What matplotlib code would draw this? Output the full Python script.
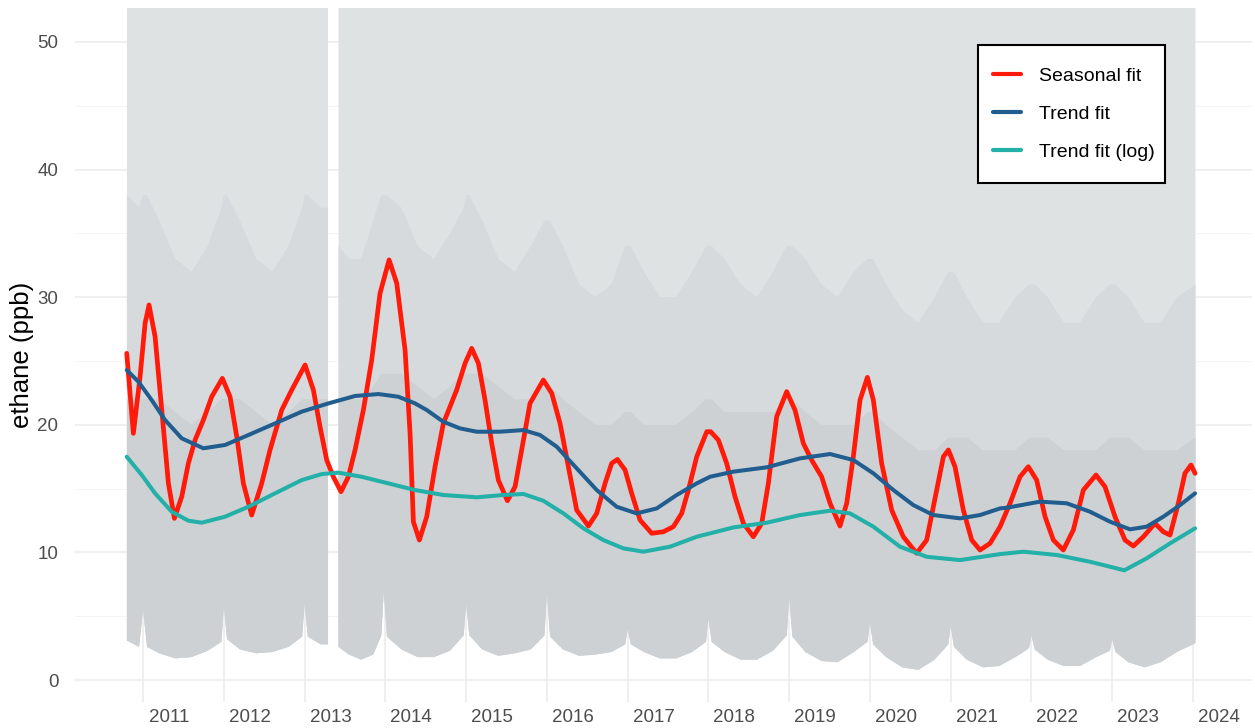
import numpy as np
import matplotlib
matplotlib.use("Agg")
import matplotlib.pyplot as plt
from matplotlib.patches import Rectangle

plt.rcParams['font.family'] = ['Liberation Sans', 'DejaVu Sans']

# ---- fitted curves (decimal year, ppb) ----
seasonal_t = [2010.798, 2010.880, 2010.963, 2011.025, 2011.074, 2011.149, 2011.231, 2011.314, 2011.388,
              2011.479, 2011.561, 2011.644, 2011.747, 2011.850, 2011.982, 2012.077, 2012.160, 2012.242,
              2012.345, 2012.469, 2012.572, 2012.717, 2012.841, 2013.006, 2013.109, 2013.191, 2013.274,
              2013.356, 2013.451, 2013.542, 2013.625, 2013.728, 2013.831, 2013.934, 2014.046, 2014.141,
              2014.244, 2014.306, 2014.347, 2014.421, 2014.512, 2014.615, 2014.718, 2014.883, 2014.987,
              2015.069, 2015.152, 2015.234, 2015.317, 2015.399, 2015.511, 2015.606, 2015.688, 2015.791,
              2015.956, 2016.060, 2016.163, 2016.266, 2016.369, 2016.514, 2016.617, 2016.720, 2016.802,
              2016.873, 2016.968, 2017.050, 2017.153, 2017.298, 2017.442, 2017.566, 2017.669, 2017.752,
              2017.855, 2017.979, 2018.028, 2018.123, 2018.226, 2018.329, 2018.433, 2018.556, 2018.660,
              2018.742, 2018.845, 2018.969, 2019.072, 2019.175, 2019.278, 2019.402, 2019.506, 2019.629,
              2019.712, 2019.794, 2019.877, 2019.968, 2020.042, 2020.145, 2020.269, 2020.413, 2020.578,
              2020.702, 2020.826, 2020.909, 2020.971, 2021.053, 2021.156, 2021.260, 2021.363, 2021.487,
              2021.611, 2021.734, 2021.858, 2021.961, 2022.064, 2022.168, 2022.271, 2022.394, 2022.518,
              2022.642, 2022.799, 2022.910, 2023.034, 2023.158, 2023.261, 2023.385, 2023.529, 2023.632,
              2023.715, 2023.818, 2023.900, 2023.975, 2024.025]
seasonal_v = [25.60, 19.33, 23.77, 27.95, 29.39, 26.91, 21.16, 15.41, 12.67,
              14.37, 16.98, 18.81, 20.38, 22.20, 23.64, 22.20, 19.07, 15.41,
              12.93, 15.41, 18.03, 21.16, 22.73, 24.69, 22.73, 19.85, 17.24,
              15.93, 14.76, 15.93, 18.03, 21.16, 25.08, 30.30, 32.92, 31.09,
              25.86, 19.33, 12.40, 10.97, 12.80, 16.72, 20.11, 22.73, 24.82,
              25.99, 24.82, 21.94, 18.55, 15.67, 14.05, 15.15, 18.03, 21.68,
              23.51, 22.47, 20.11, 16.72, 13.32, 12.07, 13.06, 15.41, 16.98,
              17.29, 16.46, 14.63, 12.54, 11.50, 11.62, 12.02, 13.06, 14.89,
              17.50, 19.46, 19.46, 18.81, 16.98, 14.37, 12.28, 11.23, 12.28,
              15.41, 20.64, 22.60, 21.16, 18.55, 17.24, 15.93, 13.85, 12.07,
              13.85, 17.50, 21.94, 23.72, 21.94, 16.98, 13.32, 11.23, 9.93,
              10.97, 14.89, 17.50, 18.03, 16.72, 13.32, 10.97, 10.19, 10.71,
              12.02, 13.85, 15.93, 16.72, 15.67, 12.80, 10.97, 10.19, 11.76,
              14.89, 16.07, 15.15, 12.80, 10.97, 10.50, 11.23, 12.28, 11.62,
              11.36, 13.85, 16.20, 16.85, 16.20]

trend_t = [2010.798, 2010.942, 2011.107, 2011.272, 2011.479, 2011.747, 2012.015, 2012.304, 2012.634,
           2012.964, 2013.295, 2013.625, 2013.914, 2014.161, 2014.367, 2014.512, 2014.718, 2014.925,
           2015.131, 2015.420, 2015.709, 2015.915, 2016.121, 2016.369, 2016.617, 2016.864, 2017.112,
           2017.360, 2017.607, 2017.855, 2018.020, 2018.309, 2018.722, 2019.134, 2019.506, 2019.794,
           2020.042, 2020.290, 2020.537, 2020.785, 2021.115, 2021.363, 2021.611, 2021.693, 2022.106,
           2022.436, 2022.725, 2022.972, 2023.220, 2023.426, 2023.632, 2023.839, 2024.025]
trend_v = [24.29, 23.38, 21.94, 20.38, 18.94, 18.16, 18.42, 19.20, 20.11,
           21.03, 21.68, 22.26, 22.41, 22.20, 21.68, 21.16, 20.24, 19.72,
           19.46, 19.46, 19.59, 19.20, 18.29, 16.59, 14.89, 13.58, 13.06,
           13.45, 14.50, 15.41, 15.93, 16.33, 16.67, 17.37, 17.71, 17.24,
           16.20, 14.89, 13.71, 12.93, 12.67, 12.93, 13.45, 13.50, 13.98,
           13.85, 13.19, 12.41, 11.81, 12.02, 12.80, 13.71, 14.63]

logtrend_t = [2010.798, 2010.984, 2011.149, 2011.355, 2011.561, 2011.726, 2012.015, 2012.304, 2012.634,
              2012.964, 2013.212, 2013.418, 2013.707, 2014.037, 2014.367, 2014.718, 2015.131, 2015.461,
              2015.709, 2015.956, 2016.204, 2016.452, 2016.699, 2016.947, 2017.195, 2017.525, 2017.855,
              2018.309, 2018.722, 2019.134, 2019.506, 2019.753, 2020.042, 2020.372, 2020.702, 2021.115,
              2021.611, 2021.899, 2022.312, 2022.725, 2023.150, 2023.426, 2023.715, 2024.025]
logtrend_v = [17.50, 16.07, 14.63, 13.19, 12.49, 12.33, 12.80, 13.58, 14.63,
              15.67, 16.14, 16.25, 15.93, 15.41, 14.89, 14.50, 14.32, 14.50,
              14.58, 14.05, 13.06, 11.89, 10.97, 10.32, 10.06, 10.45, 11.23,
              11.96, 12.33, 12.93, 13.27, 13.06, 12.02, 10.45, 9.66, 9.40,
              9.87, 10.06, 9.80, 9.27, 8.60, 9.54, 10.71, 11.89]

# ---- raw observation cloud, summarised as envelopes (nan = data gap in 2013) ----
cloud_t = [2010.80, 2010.95, 2011.00, 2011.05, 2011.20, 2011.40, 2011.60, 2011.80, 2011.97, 2012.00,
           2012.04, 2012.20, 2012.40, 2012.60, 2012.80, 2012.97, 2013.00, 2013.04, 2013.20, 2013.29,
           2013.35,
           2013.42, 2013.55, 2013.70, 2013.85, 2013.95, 2013.98, 2014.02, 2014.20, 2014.40, 2014.60,
           2014.80, 2014.97, 2015.00, 2015.04, 2015.20, 2015.40, 2015.60, 2015.80, 2015.97, 2016.00,
           2016.04, 2016.20, 2016.40, 2016.60, 2016.80, 2016.97, 2017.00, 2017.04, 2017.20, 2017.40,
           2017.60, 2017.80, 2017.97, 2018.00, 2018.04, 2018.20, 2018.40, 2018.60, 2018.80, 2018.97,
           2019.00, 2019.04, 2019.20, 2019.40, 2019.60, 2019.80, 2019.97, 2020.00, 2020.04, 2020.20,
           2020.40, 2020.60, 2020.80, 2020.97, 2021.00, 2021.04, 2021.20, 2021.40, 2021.60, 2021.80,
           2021.97, 2022.00, 2022.04, 2022.20, 2022.40, 2022.60, 2022.80, 2022.97, 2023.00, 2023.04,
           2023.20, 2023.40, 2023.60, 2023.80, 2024.03]
cloud_low = [3.1, 2.6, 5.5, 2.6, 2.1, 1.7, 1.8, 2.3, 3.0, 5.8,
             3.2, 2.4, 2.1, 2.2, 2.6, 3.4, 6.0, 3.4, 2.8, 2.8,
             np.nan,
             2.6, 2.0, 1.6, 2.0, 3.5, 7.0, 3.4, 2.4, 1.8, 1.8,
             2.3, 3.5, 6.0, 3.5, 2.4, 1.9, 2.1, 2.4, 3.5, 6.8,
             3.4, 2.4, 1.9, 2.0, 2.2, 2.8, 4.0, 2.8, 2.2, 1.7,
             1.7, 2.2, 3.0, 4.8, 3.0, 2.2, 1.6, 1.6, 2.3, 3.5,
             6.5, 3.4, 2.2, 1.5, 1.4, 2.2, 3.0, 4.5, 2.8, 1.8,
             1.0, 0.8, 1.6, 2.8, 4.3, 2.6, 1.6, 1.0, 1.1, 1.8,
             2.5, 3.5, 2.4, 1.6, 1.1, 1.1, 1.8, 2.3, 3.2, 2.2,
             1.4, 1.0, 1.4, 2.2, 2.9]
# upper limit of the solid (dense) part of the cloud
cloud_dense = [22, 22, 22, 22, 22, 21, 20, 21, 22, 22,
               22, 22, 21, 20, 21, 22, 22, 22, 22, 22,
               np.nan,
               22, 22, 22, 23, 24, 24, 24, 24, 23, 22,
               23, 24, 24, 24, 24, 23, 22, 22, 23, 23,
               23, 22, 21, 20, 20, 21, 21, 21, 20, 20,
               20, 21, 22, 22, 22, 21, 21, 21, 21, 22,
               22, 22, 21, 20, 20, 20, 21, 21, 21, 20,
               19, 18, 18, 19, 19, 19, 19, 18, 18, 18,
               19, 19, 19, 19, 18, 18, 18, 19, 19, 19,
               19, 18, 18, 18, 19]
# upper limit of the medium-density part
cloud_mid = [38, 37, 38, 38, 36, 33, 32, 34, 37, 38,
             38, 36, 33, 32, 34, 37, 38, 38, 37, 37,
             np.nan,
             34, 33, 33, 36, 38, 38, 38, 37, 34, 33,
             35, 37, 38, 38, 36, 33, 32, 34, 36, 36,
             36, 34, 31, 30, 31, 34, 34, 34, 32, 30,
             30, 32, 34, 34, 34, 33, 31, 30, 32, 34,
             34, 34, 33, 31, 30, 32, 33, 33, 33, 31,
             29, 28, 30, 32, 32, 32, 30, 28, 28, 30,
             31, 31, 31, 30, 28, 28, 30, 31, 31, 31,
             30, 28, 28, 30, 31]
cloud_top = [60 if not np.isnan(v) else np.nan for v in cloud_low]

years = list(range(2011, 2025))
year_labels = [str(y) for y in years]

fig = plt.figure(figsize=(12.55, 7.28), dpi=100)
ax = fig.add_axes([0.0598, 0.0357, 0.9378, 0.9533])

ax.fill_between(cloud_t, cloud_low, cloud_top, color='#dfe2e3', lw=0, zorder=1)
ax.fill_between(cloud_t, cloud_low, cloud_mid, color='#d7dadc', lw=0, zorder=1.1)
ax.fill_between(cloud_t, cloud_low, cloud_dense, color='#cdd1d3', lw=0, zorder=1.2)

ax.plot(seasonal_t, seasonal_v, color='#ff1a0a', lw=3.4, solid_joinstyle='round',
        solid_capstyle='round', label='Seasonal fit', zorder=3)
ax.plot(trend_t, trend_v, color='#215e8f', lw=2.9, solid_joinstyle='round',
        solid_capstyle='round', label='Trend fit', zorder=3)
ax.plot(logtrend_t, logtrend_v, color='#22b0a8', lw=2.9, solid_joinstyle='round',
        solid_capstyle='round', label='Trend fit (log)', zorder=3)

ax.set_xlim(2010.158, 2024.73)
ax.set_ylim(-1.72, 52.66)

ax.set_xticks(years)
ax.set_xticklabels([''] * len(years))
ax.set_xticks([y + 0.32 for y in years], minor=True)
ax.set_xticklabels(year_labels, minor=True)
ax.set_yticks([0, 10, 20, 30, 40, 50])
ax.set_yticks([5, 15, 25, 35, 45], minor=True)

ax.tick_params(axis='both', which='both', length=0, labelsize=13.5, labelcolor='#4d4d4d')
ax.tick_params(axis='x', which='minor', pad=5)
ax.tick_params(axis='y', which='major', pad=12)

ax.grid(True, axis='x', which='major', color='#ebebeb', lw=1.1, zorder=0)
ax.grid(True, axis='y', which='major', color='#ebebeb', lw=1.1, zorder=0)
ax.grid(True, axis='y', which='minor', color='#f4f4f4', lw=0.7, zorder=0)
ax.set_axisbelow(True)
for s in ax.spines.values():
    s.set_visible(False)

ax.set_ylabel('ethane (ppb)', fontsize=18.5, color='black')
ax.yaxis.set_label_coords(-0.035, 0.5)

# legend box drawn as its own frame
ax.add_patch(Rectangle((0.7672, 0.7478), 0.1589, 0.1989, transform=ax.transAxes,
                       facecolor='white', edgecolor='black', lw=1.5, zorder=4))
leg = ax.legend(loc='upper left', bbox_to_anchor=(0.780, 0.915), fontsize=14,
                frameon=False, borderpad=0, borderaxespad=0, labelspacing=1.05,
                handlelength=1.45, handletextpad=0.9)
leg.set_zorder(5)
for h in leg.get_lines():
    h.set_linewidth(3)

fig.savefig('out.png', dpi=100)
